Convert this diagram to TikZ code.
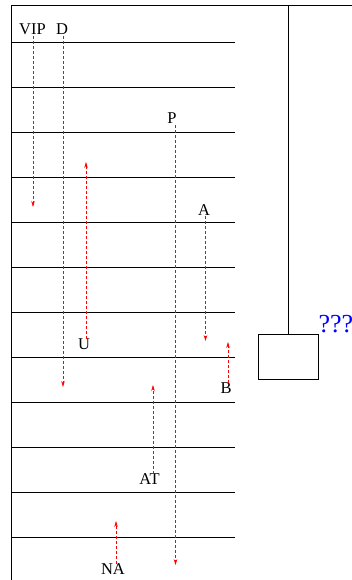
\documentclass[tikz,border=0pt]{standalone}
\usepackage{fontspec}
\setmainfont{Liberation Serif}
\usetikzlibrary{arrows.meta}
\tikzset{lbl/.style={inner sep=1pt,anchor=base,font=\fontsize{16.5}{18}\selectfont},car/.style={rectangle,draw,line width=0.8pt,minimum width=60pt,minimum height=45pt,inner sep=0pt},wall/.style={line width=0.8pt},move/.style={red,line width=0.6pt,dash pattern=on 3pt off 2pt,-{Stealth[length=6pt,width=3.5pt]}}}

\begin{document}
\begin{tikzpicture}[x=1pt,y=-1pt]
\useasboundingbox (0,0) rectangle (352,580);
\draw[wall] (11,580) -- (11,5) -- (352,5);
\foreach \f in {0,...,11} \draw[wall] (11,42+45*\f) -- (235,42+45*\f);
\node[car] (cab) at (288,356.5) {};
\coordinate (top) at (288,5);
\draw[wall] (top) -- (cab.north);
\node[anchor=south west,inner sep=0pt,blue,font=\fontsize{26}{28}\selectfont] (q) at ([yshift=1pt]cab.north east) {???};
\node[lbl] (vip) at (32.5,35) {VIP};
\node[lbl] (d) at (62,35) {D};
\node[lbl] (p) at (172,124) {P};
\node[lbl] (a) at (204,215) {A};
\node[lbl] (u) at (84,349) {U};
\node[lbl] (b) at (226,393) {B};
\node[lbl] (at) at (149.5,484) {AT};
\node[lbl] (na) at (113,574) {NA};
\coordinate (vipend) at (33,207);
\coordinate (dend) at (63,387);
\coordinate (pend) at (175.5,565);
\coordinate (aend) at (205.5,341);
\coordinate (uend) at (86,162);
\coordinate (bend) at (228,342);
\coordinate (atend) at (153,385);
\coordinate (naend) at (116,521);
\draw[move] (vip.south -| vipend) -- (vipend);
\draw[move] (d.south -| dend) -- (dend);
\draw[move] (p.south -| pend) -- (pend);
\draw[move] (a.south -| aend) -- (aend);
\draw[move] ([yshift=-2pt]u.north -| uend) -- (uend);
\draw[move] ([yshift=-2pt]b.north -| bend) -- (bend);
\draw[move] ([yshift=-2pt]at.north -| atend) -- (atend);
\draw[move] ([yshift=-2pt]na.north -| naend) -- (naend);
\end{tikzpicture}
\end{document}
